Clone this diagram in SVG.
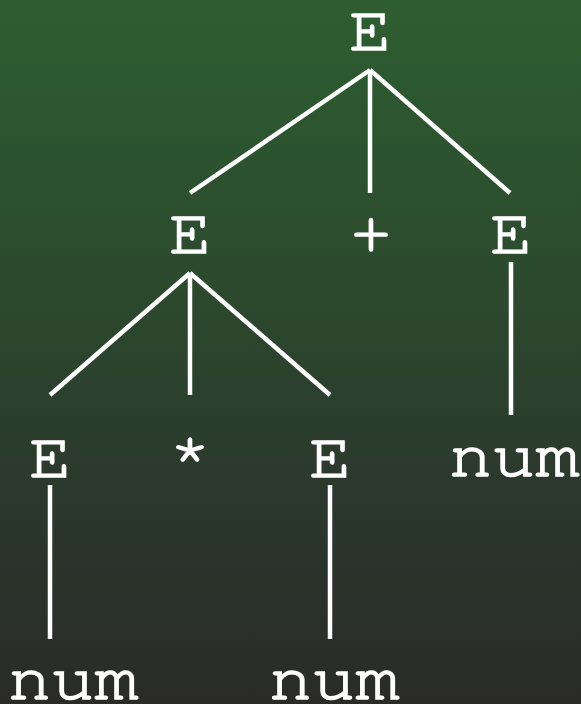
<svg xmlns="http://www.w3.org/2000/svg" width="581" height="704" viewBox="0 0 581 704">
<defs>
<linearGradient id="bg" x1="0" y1="0" x2="0" y2="1">
<stop offset="0" stop-color="#2d5e30"/>
<stop offset="0.4" stop-color="#2c4a2e"/>
<stop offset="0.7" stop-color="#2b382c"/>
<stop offset="1" stop-color="#2a2b29"/>
</linearGradient>
<style>
text{font-family:"Nimbus Mono PS","FreeMono","Courier New","Liberation Mono",monospace;font-size:64px;fill:#fff;stroke:#fff;stroke-width:1.6;text-anchor:middle}
.e{stroke:#fff;stroke-width:4.5;fill:none}
</style>
</defs>
<rect width="581" height="704" fill="url(#bg)"/>
<g id="connectors">
<line class="e" x1="370" y1="70" x2="190" y2="193"/>
<line class="e" x1="370" y1="70" x2="370" y2="193"/>
<line class="e" x1="370" y1="70" x2="510" y2="193"/>
<line class="e" x1="190" y1="273" x2="50" y2="395"/>
<line class="e" x1="190" y1="273" x2="190" y2="395"/>
<line class="e" x1="190" y1="273" x2="330" y2="395"/>
<line class="e" x1="511" y1="262" x2="511" y2="415"/>
<line class="e" x1="50" y1="485" x2="50" y2="639"/>
<line class="e" x1="330" y1="485" x2="330" y2="639"/>
</g>
<g id="n-root"><text x="370" y="50" textLength="42" lengthAdjust="spacingAndGlyphs">E</text></g>
<g id="n-e1"><text x="190" y="253" textLength="42" lengthAdjust="spacingAndGlyphs">E</text></g>
<g id="n-plus"><text x="371" y="253" textLength="42" lengthAdjust="spacingAndGlyphs">+</text></g>
<g id="n-e2"><text x="511" y="253" textLength="42" lengthAdjust="spacingAndGlyphs">E</text></g>
<g id="n-e3"><text x="50" y="477" textLength="42" lengthAdjust="spacingAndGlyphs">E</text></g>
<g id="n-star"><text x="190" y="477" textLength="42" lengthAdjust="spacingAndGlyphs">*</text></g>
<g id="n-e4"><text x="330" y="477" textLength="42" lengthAdjust="spacingAndGlyphs">E</text></g>
<g id="n-num1"><text x="514" y="476" textLength="130" lengthAdjust="spacingAndGlyphs">num</text></g>
<g id="n-num2"><text x="73" y="699" textLength="130" lengthAdjust="spacingAndGlyphs">num</text></g>
<g id="n-num3"><text x="334" y="699" textLength="130" lengthAdjust="spacingAndGlyphs">num</text></g>
</svg>
